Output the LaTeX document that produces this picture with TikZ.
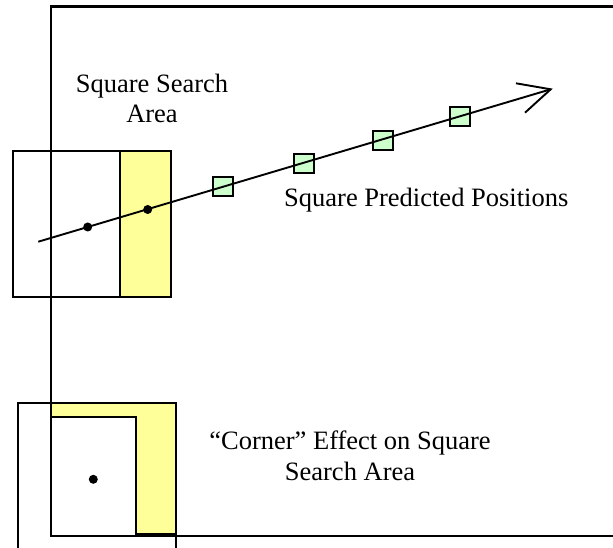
\documentclass[tikz,border=0pt]{standalone}
\usepackage{fontspec}
\setmainfont{Liberation Serif}
\definecolor{areayellow}{HTML}{FFFF99}
\definecolor{posgreen}{HTML}{CCFFCC}
\begin{document}
\begin{tikzpicture}[x=1pt,y=-1pt,
  edge/.style={line width=2.2pt,line join=miter},
  thin/.style={line width=1.9pt},
  posbox/.style={draw,line width=1.9pt,fill=posgreen,minimum width=20pt,minimum height=19pt,inner sep=0pt},
  dot/.style={circle,fill=black,inner sep=0pt,minimum size=9pt},
  lbl/.style={font=\fontsize{26.5}{30.5}\selectfont,inner sep=0pt,align=center}]
\useasboundingbox (0,0) rectangle (613,548);
% frame
\draw[edge] (613,6.6) -- (50.7,6.6) -- (50.7,536) -- (613,536);
% top search area
\draw[thin] (12.7,151) rectangle (120,297);
\draw[thin,fill=areayellow] (120,151) rectangle (171,297);
% bottom corner search area
\draw[thin] (18.3,548) -- (18.3,403.3) -- (176,403.3) -- (176,548);
\draw[thin,fill=areayellow] (50.7,403.3) -- (176,403.3) -- (176,534.3) -- (135.7,534.3) -- (135.7,417.3) -- (50.7,417.3) -- cycle;
\draw[edge] (50.7,403.3) -- (50.7,536) -- (176,536);
\node[dot] (d3) at (93.3,479.3) {};
% predicted positions
\node[posbox] (p1) at (223.3,186.7) {};
\node[posbox] (p2) at (304,163.3) {};
\node[posbox] (p3) at (382.7,140.7) {};
\node[posbox] (p4) at (460,116.7) {};
% trajectory
\coordinate (s) at (38.3,241.7);
\coordinate (t) at (550.7,89.3);
\coordinate (a1) at (516,83.3);
\coordinate (a2) at (525,112.7);
\draw[thin] (s) -- (t);
\draw[thin] (a1) -- (t) -- (a2);
\node[dot] (d1) at (87.7,227) {};
\node[dot] (d2) at (147.7,209.5) {};
% labels
\node[lbl,anchor=base] (l1) at (152,123) {Square Search\\Area};
\node[lbl,anchor=base west] (l2) at (284,207) {Square Predicted Positions};
\node[lbl,anchor=base] (l3) at (350,480) {“Corner” Effect on Square\\Search Area};
\end{tikzpicture}
\end{document}
